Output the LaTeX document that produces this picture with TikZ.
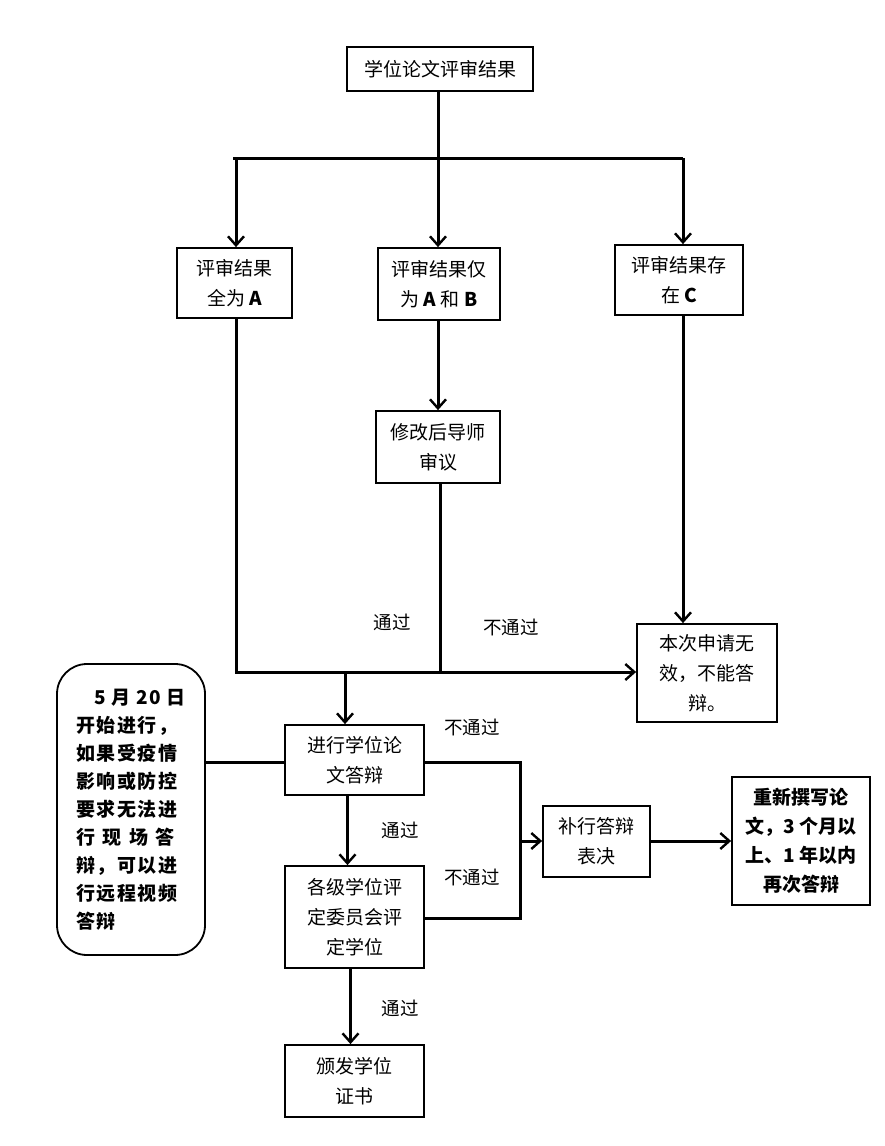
\documentclass[tikz,border=0pt]{standalone}
\usepackage{fontspec}
\setmainfont{Noto Sans CJK SC}
\newfontfamily\notefont{Noto Sans CJK SC}[LetterSpace=8]
\usetikzlibrary{arrows.meta}
\begin{document}
\begin{tikzpicture}[x=1pt,y=-1pt,
  box/.style={draw,line width=1.8pt,align=center,inner sep=0pt,font=\fontsize{19}{30}\selectfont},
  conn/.style={line width=3pt},
  arr/.style={conn,-{Straight Barb[length=9pt,width=16pt,line width=2.4pt]}},
  lbl/.style={font=\fontsize{18.5}{22}\selectfont}]
\useasboundingbox (0,0) rectangle (884,1146);
\fill[white] (0,0) rectangle (884,1146);
% boxes
\node[box,minimum width=186pt,minimum height=44pt] (top) at (440,69) {学位论文评审结果};
\node[box,minimum width=115pt,minimum height=70pt] (bA) at (234.5,283) {评审结果\\全为 \textbf{A}};
\node[box,minimum width=122pt,minimum height=72pt] (bAB) at (439,284) {评审结果仅\\为 \textbf{A} 和 \textbf{B}};
\node[box,minimum width=128pt,minimum height=70pt] (bC) at (679,280) {评审结果存\\在 \textbf{C}};
\node[box,minimum width=124pt,minimum height=72pt] (bRev) at (438,447) {修改后导师\\审议};
\node[box,minimum width=140pt,minimum height=98pt] (bInv) at (707,673) {本次申请无\\效，不能答\\辩。};
\node[box,minimum width=139pt,minimum height=70pt] (bDef) at (354.5,760) {进行学位论\\文答辩};
\node[box,minimum width=139pt,minimum height=102pt] (bEval) at (354.5,917) {各级学位评\\定委员会评\\定学位};
\node[box,minimum width=139pt,minimum height=72pt] (bCert) at (354.5,1081) {颁发学位\\证书};
\node[box,minimum width=107pt,minimum height=71pt] (bRe) at (596.5,841.5) {补行答辩\\表决};
\node[box,minimum width=138pt,minimum height=128pt,font=\fontsize{19}{29}\selectfont\bfseries] (bRew) at (801,841) {重新撰写论\\文，\textbf{3} 个月以\\上、\textbf{1} 年以内\\再次答辩};
\node[draw,line width=1.8pt,rounded corners=30pt,minimum width=148pt,minimum height=291pt,inner sep=0pt,align=left,font=\notefont\fontsize{19}{28}\selectfont\bfseries] (note) at (131,809.5) {\hspace*{18pt}5 月 20 日\\开始进行，\\如果受疫情\\影响或防控\\要求无法进\\行\hspace{0.4em}现\hspace{0.4em}场\hspace{0.4em}答\\辩，可以进\\行远程视频\\答辩};
% junctions
\coordinate (j0) at (438,158);
\coordinate (hL) at (233,158);
\coordinate (hR) at (683,158);
\coordinate (jA) at (236,158);
\coordinate (bL) at (236,672);
\coordinate (bM) at (440,672);
\coordinate (bD) at (345,672);
\coordinate (rT) at (520,762);
\coordinate (rB) at (520,918);
\coordinate (rM) at (520,841);
% connectors
\draw[conn] (top.south -| j0) -- (j0);
\draw[conn] (hL) -- (hR);
\draw[arr] (jA) -- (jA |- bA.north);
\draw[arr] (j0) -- (j0 |- bAB.north);
\draw[arr] (hR) -- (hR |- bC.north);
\draw[conn] (bA.south -| bL) -- (bL) -- (bM);
\draw[arr] (bM) -- (bM -| bInv.west);
\draw[arr] (bAB.south -| j0) -- (j0 |- bRev.north);
\draw[conn] (bRev.south -| bM) -- (bM);
\draw[arr] (bC.south -| hR) -- (hR |- bInv.north);
\draw[arr] (bD) -- (bD |- bDef.north);
\draw[conn] (note.east |- rT) -- (bDef.west |- rT);
\draw[conn] (bDef.east |- rT) -- (rT) -- (rB) -- (bEval.east |- rB);
\draw[arr] (rM) -- (rM -| bRe.west);
\draw[arr] (bRe.east |- rM) -- (rM -| bRew.west);
\draw[arr] ([xshift=-7pt]bDef.south) -- ([xshift=-7pt]bEval.north);
\draw[arr] ([xshift=-4pt]bEval.south) -- ([xshift=-4pt]bCert.north);
% labels
\node[lbl] (l1) at (392,622) {通过};
\node[lbl] (l2) at (511,627) {不通过};
\node[lbl] (l3) at (472,727) {不通过};
\node[lbl] (l4) at (400,830) {通过};
\node[lbl] (l5) at (472,877) {不通过};
\node[lbl] (l6) at (400,1008) {通过};
\end{tikzpicture}
\end{document}
